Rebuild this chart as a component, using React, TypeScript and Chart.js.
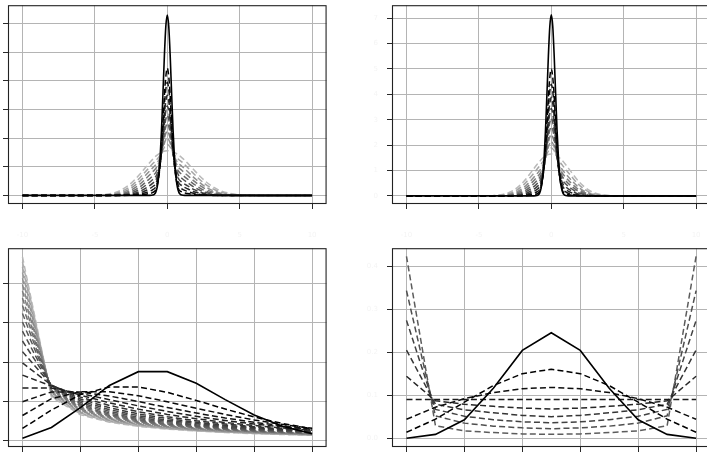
import React, { useEffect, useRef } from 'react';
import { Chart, registerables } from 'chart.js';

Chart.register(...registerables);
Chart.defaults.font.family = "'DejaVu Sans', sans-serif";

// ---------------- top panels: sample positions ----------------
const topX = [-10, -7, -5, -3.5, -2.6, -1.9, -1.4, -1, -0.75, -0.5, -0.3, -0.15, 0, 0.15, 0.3, 0.5, 0.75, 1, 1.4, 1.9, 2.6, 3.5, 5, 7, 10];
const solidX = [-10, -1.2, -1, -0.9, -0.8, -0.7, -0.6, -0.5, -0.4, -0.3, -0.2, -0.1, 0, 0.1, 0.2, 0.3, 0.4, 0.5, 0.6, 0.7, 0.8, 0.9, 1, 1.2, 10];

// ---------------- top-left panel ----------------
const topLeftSolid = [0, 0.001, 0.011, 0.036, 0.106, 0.277, 0.634, 1.28, 2.27, 3.55, 4.88, 5.91, 6.3, 5.91, 4.88, 3.55, 2.27, 1.28, 0.634, 0.277, 0.106, 0.036, 0.011, 0.001, 0];
const topLeftDashed1 = [0, 0, 0, 0, 0.002, 0.016, 0.052, 0.107, 0.253, 1.03, 2.58, 3.87, 4.44, 3.87, 2.58, 1.035, 0.264, 0.122, 0.068, 0.027, 0.005, 0, 0, 0, 0];
const topLeftDashed2 = [0, 0, 0, 0, 0.007, 0.043, 0.112, 0.202, 0.352, 1.03, 2.36, 3.46, 3.95, 3.47, 2.36, 1.04, 0.369, 0.226, 0.141, 0.066, 0.015, 0.001, 0, 0, 0];
const topLeftDashed3 = [0, 0, 0, 0.001, 0.018, 0.084, 0.19, 0.31, 0.462, 1.05, 2.17, 3.09, 3.5, 3.09, 2.17, 1.06, 0.484, 0.342, 0.231, 0.121, 0.035, 0.004, 0, 0, 0];
const topLeftDashed4 = [0, 0, 0, 0.004, 0.036, 0.139, 0.282, 0.429, 0.58, 1.09, 2.02, 2.78, 3.12, 2.79, 2.02, 1.1, 0.605, 0.467, 0.334, 0.191, 0.065, 0.01, 0, 0, 0];
const topLeftDashed5 = [0, 0, 0, 0.009, 0.065, 0.21, 0.387, 0.556, 0.705, 1.14, 1.9, 2.53, 2.8, 2.53, 1.91, 1.15, 0.733, 0.599, 0.448, 0.275, 0.108, 0.021, 0, 0, 0];
const topLeftDashed6 = [0, 0, 0, 0.018, 0.105, 0.293, 0.502, 0.689, 0.834, 1.19, 1.81, 2.3, 2.52, 2.3, 1.81, 1.21, 0.864, 0.736, 0.571, 0.372, 0.164, 0.04, 0.001, 0, 0];
const topLeftDashed7 = [0, 0, 0.001, 0.032, 0.157, 0.389, 0.625, 0.827, 0.967, 1.26, 1.72, 2.09, 2.25, 2.09, 1.73, 1.27, 0.998, 0.876, 0.701, 0.48, 0.233, 0.066, 0.004, 0, 0];
const topLeftDashed8 = [0, 0, 0.002, 0.054, 0.22, 0.494, 0.755, 0.968, 1.1, 1.32, 1.64, 1.89, 2.0, 1.89, 1.65, 1.34, 1.13, 1.02, 0.836, 0.596, 0.312, 0.101, 0.007, 0, 0];
const topLeftDashed9 = [0, 0, 0.004, 0.083, 0.294, 0.608, 0.891, 1.11, 1.24, 1.4, 1.59, 1.72, 1.78, 1.72, 1.59, 1.41, 1.27, 1.17, 0.976, 0.721, 0.404, 0.147, 0.014, 0, 0];
const topLeftDashed10 = [0, 0, 0.009, 0.122, 0.382, 0.736, 1.037, 1.267, 1.388, 1.481, 1.531, 1.553, 1.56, 1.554, 1.537, 1.497, 1.421, 1.321, 1.127, 0.857, 0.508, 0.204, 0.025, 0, 0];

// ---------------- top-right panel ----------------
const topRightSolid = [0, 0.001, 0.012, 0.041, 0.12, 0.313, 0.718, 1.45, 2.57, 4.02, 5.52, 6.69, 7.13, 6.69, 5.52, 4.02, 2.57, 1.45, 0.718, 0.313, 0.12, 0.041, 0.012, 0.001, 0];
const topRightDashed1 = [0, 0, 0, 0, 0, 0.005, 0.027, 0.08, 0.246, 1.13, 2.89, 4.35, 5.0, 4.35, 2.89, 1.13, 0.246, 0.08, 0.027, 0.005, 0, 0, 0, 0, 0];
const topRightDashed2 = [0, 0, 0, 0, 0.001, 0.016, 0.066, 0.157, 0.329, 1.11, 2.61, 3.85, 4.4, 3.85, 2.61, 1.11, 0.329, 0.157, 0.066, 0.016, 0.001, 0, 0, 0, 0];
const topRightDashed3 = [0, 0, 0, 0, 0.004, 0.037, 0.122, 0.249, 0.427, 1.1, 2.37, 3.42, 3.88, 3.42, 2.37, 1.1, 0.427, 0.249, 0.122, 0.037, 0.004, 0, 0, 0, 0];
const topRightDashed4 = [0, 0, 0, 0, 0.01, 0.07, 0.194, 0.355, 0.537, 1.12, 2.19, 3.06, 3.44, 3.06, 2.19, 1.12, 0.537, 0.355, 0.194, 0.07, 0.01, 0, 0, 0, 0];
const topRightDashed5 = [0, 0, 0, 0.001, 0.022, 0.116, 0.281, 0.472, 0.655, 1.16, 2.04, 2.75, 3.06, 2.75, 2.04, 1.16, 0.655, 0.472, 0.281, 0.116, 0.022, 0.001, 0, 0, 0];
const topRightDashed6 = [0, 0, 0, 0.003, 0.04, 0.175, 0.379, 0.598, 0.779, 1.2, 1.91, 2.47, 2.72, 2.47, 1.91, 1.2, 0.779, 0.598, 0.379, 0.175, 0.04, 0.003, 0, 0, 0];
const topRightDashed7 = [0, 0, 0, 0.007, 0.067, 0.248, 0.489, 0.73, 0.908, 1.26, 1.8, 2.23, 2.42, 2.23, 1.8, 1.26, 0.908, 0.73, 0.489, 0.248, 0.067, 0.007, 0, 0, 0];
const topRightDashed8 = [0, 0, 0, 0.014, 0.105, 0.332, 0.609, 0.868, 1.04, 1.32, 1.71, 2.01, 2.14, 2.01, 1.71, 1.32, 1.04, 0.868, 0.609, 0.332, 0.105, 0.014, 0, 0, 0];
const topRightDashed9 = [0, 0, 0, 0.026, 0.157, 0.442, 0.761, 1.04, 1.22, 1.42, 1.66, 1.82, 1.89, 1.82, 1.66, 1.42, 1.22, 1.04, 0.761, 0.442, 0.157, 0.026, 0, 0, 0];
const topRightDashed10 = [0, 0, 0.001, 0.044, 0.223, 0.567, 0.924, 1.227, 1.397, 1.532, 1.607, 1.639, 1.65, 1.639, 1.607, 1.532, 1.397, 1.227, 0.924, 0.567, 0.223, 0.044, 0.001, 0, 0];

// ---------------- bottom panels: categories 0..10 ----------------
const countX = [0, 1, 2, 3, 4, 5, 6, 7, 8, 9, 10];

// bottom-left
const bottomLeftSolid = [0.0067, 0.0337, 0.0842, 0.1404, 0.1755, 0.1755, 0.1462, 0.1044, 0.0653, 0.0363, 0.0181];
const bottomLeftD1 = [0.0313, 0.0781, 0.1172, 0.1367, 0.1367, 0.123, 0.1025, 0.0806, 0.0604, 0.0436, 0.0305];
const bottomLeftD2 = [0.0642, 0.1069, 0.1247, 0.1247, 0.1143, 0.0991, 0.0826, 0.0668, 0.0529, 0.0412, 0.0316];
const bottomLeftD3 = [0.0992, 0.124, 0.124, 0.1137, 0.0995, 0.0845, 0.0705, 0.0579, 0.047, 0.0379, 0.0303];
const bottomLeftD4 = [0.1337, 0.1337, 0.1203, 0.1043, 0.0886, 0.0745, 0.062, 0.0514, 0.0424, 0.0349, 0.0286];
const bottomLeftD5 = [0.1667, 0.1389, 0.1157, 0.0965, 0.0804, 0.067, 0.0558, 0.0465, 0.0388, 0.0323, 0.0269];
const bottomLeftD6 = [0.1976, 0.1411, 0.1109, 0.0898, 0.0737, 0.0611, 0.0509, 0.0426, 0.0358, 0.0301, 0.0254];
const bottomLeftD7 = [0.2264, 0.1415, 0.1061, 0.084, 0.0683, 0.0563, 0.0469, 0.0394, 0.0332, 0.0282, 0.0239];
const bottomLeftD8 = [0.2533, 0.1407, 0.1016, 0.079, 0.0637, 0.0523, 0.0436, 0.0367, 0.0311, 0.0265, 0.0226];
const bottomLeftD9 = [0.2782, 0.1391, 0.0974, 0.0747, 0.0597, 0.049, 0.0408, 0.0344, 0.0292, 0.025, 0.0215];
const bottomLeftD10 = [0.3015, 0.1371, 0.0935, 0.0708, 0.0563, 0.0461, 0.0384, 0.0324, 0.0276, 0.0237, 0.0205];
const bottomLeftD11 = [0.3232, 0.1347, 0.0898, 0.0673, 0.0533, 0.0435, 0.0363, 0.0307, 0.0262, 0.0226, 0.0196];
const bottomLeftD12 = [0.3435, 0.1321, 0.0864, 0.0642, 0.0507, 0.0413, 0.0344, 0.0291, 0.0249, 0.0215, 0.0187];
const bottomLeftD13 = [0.3624, 0.1294, 0.0832, 0.0614, 0.0483, 0.0393, 0.0327, 0.0277, 0.0238, 0.0206, 0.0179];
const bottomLeftD14 = [0.3802, 0.1267, 0.0803, 0.0589, 0.0461, 0.0375, 0.0313, 0.0265, 0.0228, 0.0197, 0.0172];
const bottomLeftD15 = [0.3969, 0.124, 0.0775, 0.0565, 0.0442, 0.0359, 0.0299, 0.0254, 0.0218, 0.0189, 0.0166];
const bottomLeftD16 = [0.4126, 0.1214, 0.075, 0.0544, 0.0424, 0.0344, 0.0287, 0.0244, 0.021, 0.0182, 0.016];
const bottomLeftD17 = [0.4274, 0.1187, 0.0726, 0.0524, 0.0408, 0.0331, 0.0276, 0.0234, 0.0202, 0.0176, 0.0154];
const bottomLeftD18 = [0.4414, 0.1162, 0.0703, 0.0506, 0.0393, 0.0318, 0.0265, 0.0225, 0.0194, 0.0169, 0.0149];
const bottomLeftD19 = [0.4546, 0.1137, 0.0682, 0.0489, 0.0379, 0.0307, 0.0256, 0.0218, 0.0188, 0.0164, 0.0144];
const bottomLeftD20 = [0.4671, 0.1112, 0.0662, 0.0473, 0.0366, 0.0296, 0.0247, 0.021, 0.0181, 0.0158, 0.0139];

// bottom-right
const bottomRightSolid = [0.001, 0.0098, 0.0439, 0.1172, 0.2051, 0.2461, 0.2051, 0.1172, 0.0439, 0.0098, 0.001];
const bottomRightD1 = [0.0147, 0.0452, 0.0848, 0.1233, 0.1511, 0.1612, 0.1511, 0.1233, 0.0848, 0.0452, 0.0147];
const bottomRightD2 = [0.045, 0.073, 0.093, 0.107, 0.116, 0.119, 0.116, 0.107, 0.093, 0.073, 0.045];
const bottomRightD3 = [0.0909, 0.0909, 0.0909, 0.0909, 0.0909, 0.0909, 0.0909, 0.0909, 0.0909, 0.0909, 0.0909];
const bottomRightD4 = [0.145, 0.088, 0.08, 0.075, 0.071, 0.069, 0.071, 0.075, 0.08, 0.088, 0.145];
const bottomRightD5 = [0.206, 0.08, 0.067, 0.06, 0.054, 0.051, 0.054, 0.06, 0.067, 0.08, 0.206];
const bottomRightD6 = [0.275, 0.068, 0.052, 0.044, 0.039, 0.037, 0.039, 0.044, 0.052, 0.068, 0.275];
const bottomRightD7 = [0.344, 0.053, 0.036, 0.029, 0.025, 0.023, 0.025, 0.029, 0.036, 0.053, 0.344];
const bottomRightD8 = [0.424, 0.03, 0.018, 0.014, 0.011, 0.01, 0.011, 0.014, 0.018, 0.03, 0.424];

// ---------------- ticks ----------------
const topXTicks = [-10, -5, 0, 5, 10];
const topXLabels = ['-10', '-5', '0', '5', '10'];
const topLeftYTicks = [0, 1, 2, 3, 4, 5, 6];
const topLeftYLabels = ['0', '1', '2', '3', '4', '5', '6'];
const topRightYTicks = [0, 1, 2, 3, 4, 5, 6, 7];
const topRightYLabels = ['0', '1', '2', '3', '4', '5', '6', '7'];
const countXTicks = [0, 2, 4, 6, 8, 10];
const countXLabels = ['0', '2', '4', '6', '8', '10'];
const probYTicks = [0, 0.1, 0.2, 0.3, 0.4];
const probYLabels = ['0.0', '0.1', '0.2', '0.3', '0.4'];

// ---------------- helpers ----------------
const Y_AXIS_W = 60;
const X_AXIS_H = 45;
const PAD_T = 10;
const PAD_R = 10;
const PLOT_W = 321;
const PLOT_H = 202;
const CANVAS_W = Y_AXIS_W + PLOT_W + PAD_R;
const CANVAS_H = PAD_T + PLOT_H + X_AXIS_H;

const grayOf = (i: number, n: number, maxLevel: number) => {
  const g = Math.round(n <= 1 ? 0 : (i / (n - 1)) * maxLevel);
  return `rgb(${g},${g},${g})`;
};

function makeDatasets(xs: number[], solid: number[], solidXs: number[], dashed: number[][], maxGray: number, smooth: boolean) {
  const common = {
    pointRadius: 0,
    fill: false,
    tension: 0,
    cubicInterpolationMode: smooth ? 'monotone' : 'default',
  };
  const sets: any[] = [
    {
      ...common,
      data: solidXs.map((x, i) => ({ x, y: solid[i] })),
      borderColor: '#000000',
      borderWidth: 1.6,
      borderDash: [],
    },
  ];
  dashed.forEach((ys, k) => {
    sets.push({
      ...common,
      data: xs.map((x, i) => ({ x, y: ys[i] })),
      borderColor: grayOf(k, dashed.length, maxGray),
      borderWidth: 1.5,
      borderDash: [6, 3.2],
    });
  });
  return sets;
}

const framePlugin = {
  id: 'frame',
  afterDatasetsDraw(chart: any) {
    const { ctx, chartArea: a } = chart;
    ctx.save();
    ctx.strokeStyle = '#222222';
    ctx.lineWidth = 1.1;
    ctx.setLineDash([]);
    ctx.strokeRect(a.left + 0.5, a.top + 0.5, a.right - a.left - 1, a.bottom - a.top - 1);
    ctx.restore();
  },
};

type PanelProps = {
  left: number;
  top: number;
  datasets: any[];
  xMin: number;
  xMax: number;
  yMin: number;
  yMax: number;
  xTicks: number[];
  xLabels: string[];
  yTicks: number[];
  yLabels: string[];
};

function Panel(p: PanelProps) {
  const ref = useRef<HTMLCanvasElement | null>(null);
  useEffect(() => {
    if (!ref.current) return;
    const gridCommon = {
      color: '#b4b4b4',
      lineWidth: 1,
      tickColor: '#2a2a2a',
      tickLength: 5,
      tickWidth: 1,
      drawTicks: true,
    };
    const labelColor = '#f4f4f4';
    const chart = new Chart(ref.current, {
      type: 'line',
      data: { datasets: p.datasets },
      options: {
        animation: false,
        responsive: false,
        events: [],
        layout: { padding: { top: PAD_T, right: PAD_R, left: 0, bottom: 0 } },
        plugins: { legend: { display: false }, tooltip: { enabled: false } },
        scales: {
          x: {
            type: 'linear',
            min: p.xMin,
            max: p.xMax,
            afterBuildTicks: (s: any) => {
              s.ticks = p.xTicks.map((v) => ({ value: v }));
            },
            afterFit: (s: any) => {
              s.height = X_AXIS_H;
            },
            grid: gridCommon,
            border: { display: false },
            ticks: {
              autoSkip: false,
              maxRotation: 0,
              padding: 22,
              color: labelColor,
              font: { size: 7 },
              callback: (_v: any, i: number) => p.xLabels[i],
            },
          },
          y: {
            type: 'linear',
            min: p.yMin,
            max: p.yMax,
            afterBuildTicks: (s: any) => {
              s.ticks = p.yTicks.map((v) => ({ value: v }));
            },
            afterFit: (s: any) => {
              s.width = Y_AXIS_W;
            },
            grid: gridCommon,
            border: { display: false },
            ticks: {
              autoSkip: false,
              padding: 9,
              color: labelColor,
              font: { size: 7 },
              callback: (_v: any, i: number) => p.yLabels[i],
            },
          },
        },
      } as any,
      plugins: [framePlugin],
    });
    return () => chart.destroy();
  }, []);
  return (
    <canvas
      ref={ref}
      width={CANVAS_W}
      height={CANVAS_H}
      style={{ position: 'absolute', left: p.left, top: p.top, width: CANVAS_W, height: CANVAS_H }}
    />
  );
}

export default function App() {
  const tlSets = makeDatasets(
    topX,
    topLeftSolid,
    solidX,
    [topLeftDashed1, topLeftDashed2, topLeftDashed3, topLeftDashed4, topLeftDashed5, topLeftDashed6, topLeftDashed7, topLeftDashed8, topLeftDashed9, topLeftDashed10],
    185,
    true
  );
  const trSets = makeDatasets(
    topX,
    topRightSolid,
    solidX,
    [topRightDashed1, topRightDashed2, topRightDashed3, topRightDashed4, topRightDashed5, topRightDashed6, topRightDashed7, topRightDashed8, topRightDashed9, topRightDashed10],
    185,
    true
  );
  const blSets = makeDatasets(
    countX,
    bottomLeftSolid,
    countX,
    [
      bottomLeftD1, bottomLeftD2, bottomLeftD3, bottomLeftD4, bottomLeftD5, bottomLeftD6, bottomLeftD7, bottomLeftD8, bottomLeftD9, bottomLeftD10,
      bottomLeftD11, bottomLeftD12, bottomLeftD13, bottomLeftD14, bottomLeftD15, bottomLeftD16, bottomLeftD17, bottomLeftD18, bottomLeftD19, bottomLeftD20,
    ],
    185,
    false
  );
  const brSets = makeDatasets(
    countX,
    bottomRightSolid,
    countX,
    [bottomRightD1, bottomRightD2, bottomRightD3, bottomRightD4, bottomRightD5, bottomRightD6, bottomRightD7, bottomRightD8],
    92,
    false
  );

  return (
    <div style={{ position: 'fixed', left: 0, top: 0, width: 707, height: 452, overflow: 'hidden', background: '#ffffff' }}>
      <Panel left={8 - Y_AXIS_W} top={2 - PAD_T} datasets={tlSets} xMin={-11} xMax={11} yMin={-0.3} yMax={6.64}
        xTicks={topXTicks} xLabels={topXLabels} yTicks={topLeftYTicks} yLabels={topLeftYLabels} />
      <Panel left={392 - Y_AXIS_W} top={2 - PAD_T} datasets={trSets} xMin={-11} xMax={11} yMin={-0.32} yMax={7.51}
        xTicks={topXTicks} xLabels={topXLabels} yTicks={topRightYTicks} yLabels={topRightYLabels} />
      <Panel left={8 - Y_AXIS_W} top={245 - PAD_T} datasets={blSets} xMin={-0.5} xMax={10.5} yMin={-0.0158} yMax={0.489}
        xTicks={countXTicks} xLabels={countXLabels} yTicks={probYTicks} yLabels={probYLabels} />
      <Panel left={392 - Y_AXIS_W} top={245 - PAD_T} datasets={brSets} xMin={-0.5} xMax={10.5} yMin={-0.0195} yMax={0.4428}
        xTicks={countXTicks} xLabels={countXLabels} yTicks={probYTicks} yLabels={probYLabels} />
    </div>
  );
}
